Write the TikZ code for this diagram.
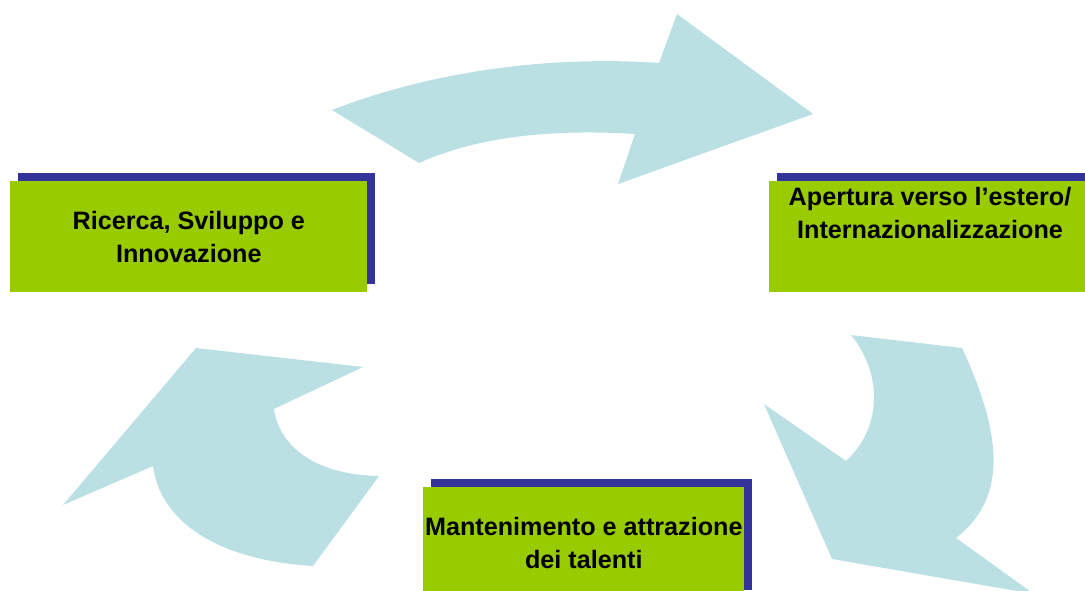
\documentclass[tikz,border=0pt]{standalone}
\usepackage{fontspec}
\setmainfont{Liberation Sans}
\usetikzlibrary{shadows}

\definecolor{leaf}{HTML}{99CC00}
\definecolor{ink}{HTML}{333399}
\definecolor{ice}{HTML}{BBE0E3}

\tikzset{
    tile/.style={fill=leaf, inner sep=0pt, anchor=north west,
        minimum width=#1, minimum height=2.775cm,
        font=\bfseries\fontsize{17.9}{23.5}\selectfont, align=center,
        copy shadow={shadow xshift=0.2cm, shadow yshift=0.2cm, fill=ink, draw=none}},
    tile/.default=8.925cm,
    curvearrow/.style={fill=ice, draw=none}
}

\begin{document}
\begin{tikzpicture}[x=0.025cm, y=-0.025cm]
    \useasboundingbox (0,0) rectangle (1085,591);

    % curved block arrows
    \fill[curvearrow] (332,110) .. controls (440,68) and (560,56) .. (659,63)
        -- (677,14) -- (813,114) -- (618,184) -- (635,134)
        .. controls (540,128) and (470,140) .. (419,163) -- cycle;
    \fill[curvearrow] (851,335) -- (962,348) .. controls (1005,440) and (1005,500) .. (956,538)
        -- (1034,594) -- (832,559) -- (764,404) -- (846,461)
        .. controls (885,425) and (880,370) .. cycle;
    \fill[curvearrow] (196,348) -- (363,367) -- (274,409)
        .. controls (280,450) and (320,475) .. (379,476)
        -- (313,566) .. controls (215,560) and (160,520) .. (153,466)
        -- (63,505) -- cycle;

    % the three boxes
    \node[tile] (ricerca) at (10,181) {Ricerca, Sviluppo e\\Innovazione};
    \node[tile] (apertura) at (769,181) {};
    \node[font=\bfseries\fontsize{17.9}{23.5}\selectfont, align=center] (aperturatxt) at (930,213)
        {Apertura verso l’estero/\\Internazionalizzazione};
    \node[tile=8.025cm] (talenti) at (423,487) {Mantenimento e attrazione\\dei talenti};
\end{tikzpicture}
\end{document}
